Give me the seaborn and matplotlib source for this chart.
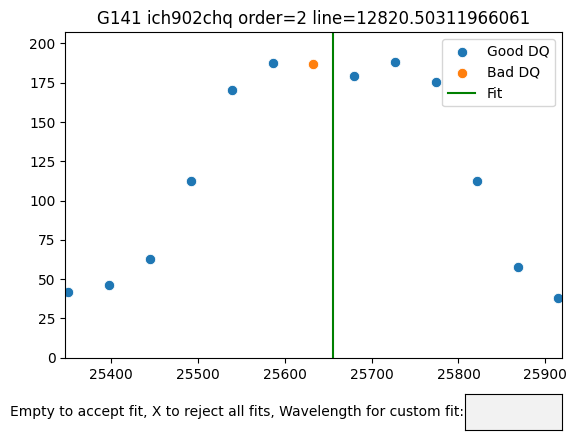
import matplotlib
matplotlib.use("Agg")
import matplotlib.pyplot as plt
from matplotlib.widgets import TextBox
import seaborn as sns
import pandas as pd

good_x = [25351, 25398, 25445, 25492, 25539, 25586, 25680, 25727, 25774, 25821, 25868, 25915]
good_y = [41.6, 46.1, 62.6, 112.2, 170.7, 187.9, 179.2, 188.5, 175.8, 112.2, 57.5, 38.0]
bad_x = [25633]
bad_y = [186.8]
fit_x = 25655.2
title = "G141 ich902chq order=2 line=12820.50311966061"
prompt = "Empty to accept fit, X to reject all fits, Wavelength for custom fit:"

good = pd.DataFrame({"x": good_x, "y": good_y})
bad = pd.DataFrame({"x": bad_x, "y": bad_y})

fig = plt.figure(figsize=(5.76, 4.45), dpi=100)
ax = fig.add_axes([0.1134, 0.196, 0.9752 - 0.1134, 0.927 - 0.196])
sns.scatterplot(data=good, x="x", y="y", ax=ax, color="C0", label="Good DQ", s=56)
sns.scatterplot(data=bad, x="x", y="y", ax=ax, color="C1", label="Bad DQ", s=56)
ax.axvline(fit_x, color="green", label="Fit")
ax.set_xlim(25347.4, 25918.9)
ax.set_ylim(0, 207)
ax.set_xlabel("")
ax.set_ylabel("")
ax.set_title(title)
ax.legend(loc="upper right")

tax = fig.add_axes([465.3 / 576, (445 - 430.3) / 445, 96.4 / 576, 36 / 445])
tb = TextBox(tax, prompt)

fig.savefig("out.png", dpi=100)
